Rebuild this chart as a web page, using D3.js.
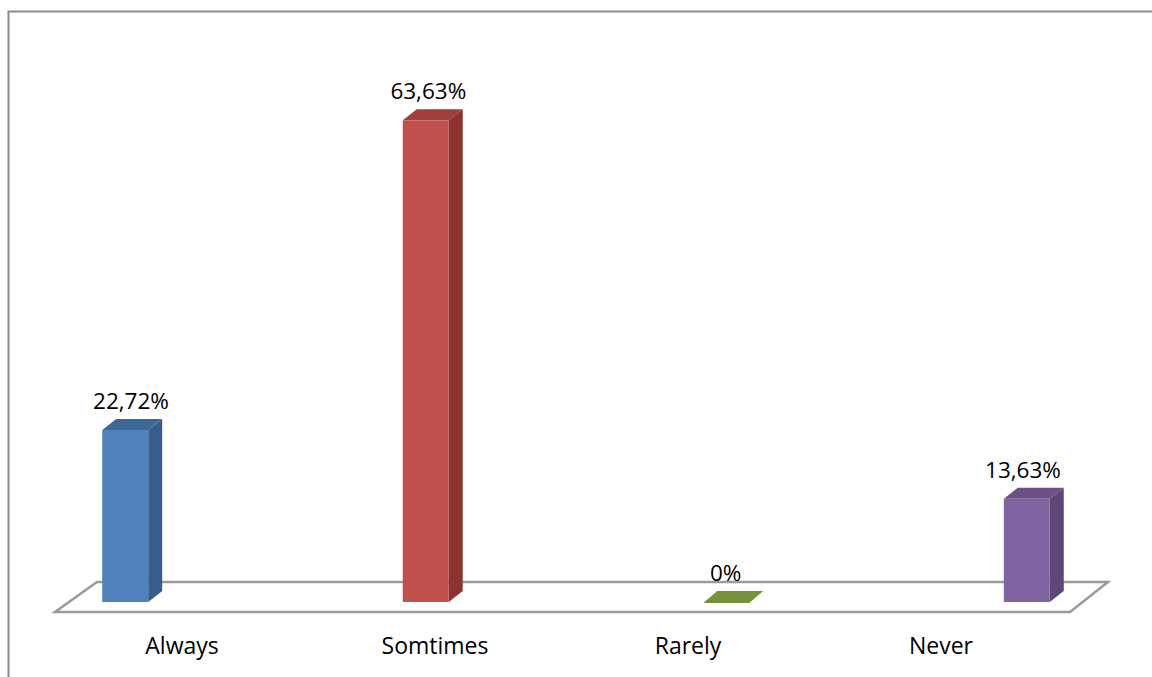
<!DOCTYPE html>
<html>
<head>
<meta charset="utf-8">
<script src="https://cdn.jsdelivr.net/npm/d3@7"></script>
<style>
  html, body { margin: 0; padding: 0; background: #fff; }
  svg { display: block; }
  text { font-family: "Open Sans", "Noto Sans", sans-serif; fill: #000; }
</style>
</head>
<body>
<svg id="chart" width="1152" height="677"></svg>
<script>
// Survey answers and their shares (percent)
const categories = ["Always", "Somtimes", "Rarely", "Never"];
const values = [22.72, 63.63, 0, 13.63];
const valueLabels = ["22,72%", "63,63%", "0%", "13,63%"];
const frontColors = ["#4F81BD", "#C0504D", "#9BBB59", "#8064A2"];
const sideColors = ["#385D8A", "#8C3230", "#6F8A3C", "#5C4776"];
const topColors = ["#3E6898", "#A03E3B", "#76923C", "#6A5288"];

const svg = d3.select("#chart");
const W = 1152, H = 677;

// outer frame (left and top edges)
svg.append("path")
  .attr("d", `M8.5,${H} V11.5 H${W}`)
  .attr("fill", "none").attr("stroke", "#8a8a8a").attr("stroke-width", 2);

// depth offset of the floor and of each column
const floorDx = 42, floorDy = -30;
const barDx = 14, barDy = -11;

// bar positions, value label positions and category label positions
const xBar = d3.scaleBand().domain(categories).range([-24, 1176]).paddingInner(0.847).paddingOuter(0.42);
const xVal = d3.scalePoint().domain(categories).range([131, 1023]);
const xLab = d3.scalePoint().domain(categories).range([182, 941]);
const y = d3.scaleLinear().domain([0, 70]).range([602, 602 - 70 * 7.57]);

// floor plane
const fy = 612;
svg.append("path")
  .attr("d", `M55,${fy} L1070,${fy} L${1070 + floorDx - 4},${fy + floorDy} L${55 + floorDx},${fy + floorDy} Z`)
  .attr("fill", "#fff").attr("stroke", "#9a9a9a").attr("stroke-width", 2.5)
  .attr("stroke-linejoin", "miter");

const bars = svg.append("g");
categories.forEach((c, i) => {
  const x0 = xBar(c), w = xBar.bandwidth();
  const yb = y(0), yt = y(values[i]);
  const g = bars.append("g");
  if (values[i] > 0) {
    // side face
    g.append("path")
      .attr("d", `M${x0 + w},${yb} L${x0 + w + barDx},${yb + barDy} L${x0 + w + barDx},${yt + barDy} L${x0 + w},${yt} Z`)
      .attr("fill", sideColors[i]);
    // top face
    g.append("path")
      .attr("d", `M${x0},${yt} L${x0 + barDx},${yt + barDy} L${x0 + w + barDx},${yt + barDy} L${x0 + w},${yt} Z`)
      .attr("fill", topColors[i]);
    // front face
    g.append("rect")
      .attr("x", x0).attr("y", yt).attr("width", w).attr("height", yb - yt)
      .attr("fill", frontColors[i]);
  } else {
    // zero-height column: only the top face remains
    g.append("path")
      .attr("d", `M${x0},${yb + 1} L${x0 + barDx},${yb + barDy} L${x0 + w + barDx},${yb + barDy} L${x0 + w},${yb + 1} Z`)
      .attr("fill", topColors[i]);
  }
  // value label
  svg.append("text")
    .attr("x", xVal(c))
    .attr("y", yt + barDy - 10)
    .attr("text-anchor", "middle")
    .attr("font-size", 22.5)
    .text(valueLabels[i]);
});

// category labels
svg.append("g").selectAll("text").data(categories).join("text")
  .attr("x", d => xLab(d))
  .attr("y", 654)
  .attr("text-anchor", "middle")
  .attr("font-size", 23)
  .text(d => d);
</script>
</body>
</html>
